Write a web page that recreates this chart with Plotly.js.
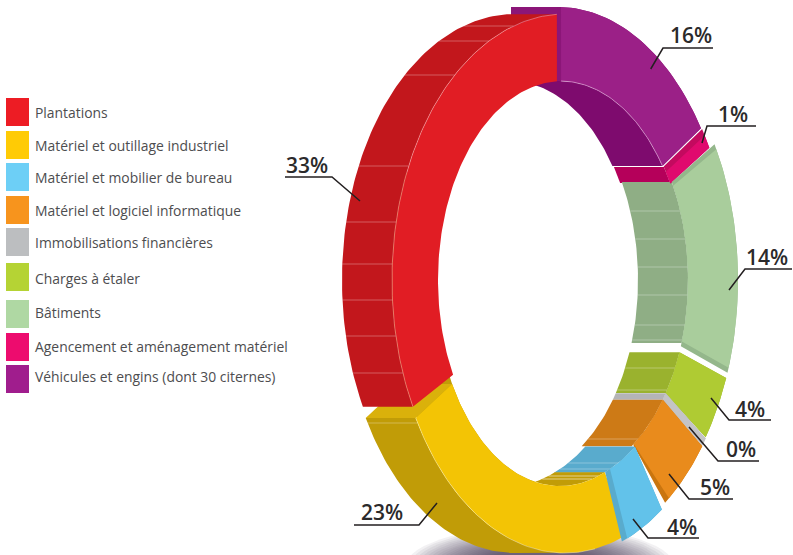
<!DOCTYPE html>
<html><head><meta charset="utf-8">
<script src="https://cdn.plot.ly/plotly-3.0.1.min.js"></script>
<style>html,body{margin:0;padding:0;background:#fff}#c{width:793px;height:555px}</style>
</head><body><div id="c"></div>
<script>
// ---- data ----
const categories = ["Plantations","Matériel et outillage industriel","Matériel et mobilier de bureau","Matériel et logiciel informatique","Immobilisations financières","Charges à étaler","Bâtiments","Agencement et aménagement matériel","Véhicules et engins (dont 30 citernes)"];
const values = [33,23,4,5,0.3,4,14,1,16];
const legendColors = ["#ed1c24","#ffcb05","#6dcff6","#f7941d","#bcbec0","#b5d334","#afd8a3","#ed0c6e","#a01d8d"];
const faceColors = ["#e11d24","#f3c405","#62c2ea","#e98b1c","#c4c4c6","#afcb33","#a9cd9c","#e00a6e","#9b2087"];
const wallColors = ["#c2171c","#c19c07","#59abcd","#cd7a16","#b4b4b6","#9ab22e","#8fae85","#b5005a","#7e0b6e"];
const underColors = ["#c2171c","#c19c07","#59abcd","#c9750f","#b4b4b6","#9ab22e","#94b78b","#c30a5f","#8b1678"];
// clockwise drawing order, starting at the top of the ring
const clockOrder = [8,7,6,5,4,3,2,1,0];

// ---- ring geometry (pixels of the page) ----
const CY = 280, DEPTH = 50;
// [cxOuter, rxOuter, ryOuter, cxInner, rxInner, ryInner]
const ellipses = [
 [565,173,266,563,125,199],[565,173,273,560,125,206],[565,173,277,563,125,204],
 [565,173,273,563,125,199],[565,173,272,563,125,199],[565,173,270,563,125,199],
 [565,173,270,563,125,199],[558,173,273,561,125,199],[558,172,273,560,125,199]];
// angle offsets [startInner,startOuter,endInner,endOuter]
const faceTrim = [
 [0,0,-2.75,-2.7],[0,0,-1.9,-1.9],[0.2,1.3,-1.1,-0.1],[0.3,0.8,0.9,-1.6],[-0.9,0,0.3,0.8],
 [0,0,-0.8,0],[0.7,0,-3.3,-2.3],[-0.4,0.6,0,0],[0.5,1,-2.4,-1.2]];
const underTrim = [
 [0,0,-2.75,-2.7],[0,0,-1.9,-1.9],[0.2,1.3,1.3,1.8],[0.3,0.8,1.2,0],[-0.9,0,0.3,0.8],
 [0,0,-0.8,0],[-0.5,-1.2,-1.8,-1.2],[-2.2,-1,0,0],[-1.4,-0.3,-2.4,-1.2]];
// inner wall angle offsets [start,end]
const wallTrim = [null,[0,60],[0,1.9],[0.3,2],[-0.9,0.3],[0,-1],[-0.5,-2.8],[-2,-0.2],[0,-2.4]];
const wallLinesInner = [[],[476,479],[463,469],[439],[],[368,390],[211,239,267,295,325,340],[],[]];
const wallLinesOuter = [[26,41,75,166,222,264,300,336,373],[423],[],[],[],[],[],[],[]];

const total = values.reduce((a,b)=>a+b,0);
const spans = {}; let run = 0;
clockOrder.forEach(i=>{ const s=run/total*360; run+=values[i]; spans[i]=[s,run/total*360]; });

const rad = d => d*Math.PI/180;
function arc(e,outer,a,b,dx){
  const cx=outer?e[0]:e[3], rx=outer?e[1]:e[4], ry=outer?e[2]:e[5];
  const n=Math.max(2,Math.ceil(Math.abs(b-a)/1.2)+1), xs=[], ys=[];
  for(let k=0;k<n;k++){ const t=a+(b-a)*k/(n-1);
    xs.push(cx+rx*Math.sin(rad(t))+(dx||0)); ys.push(CY-ry*Math.cos(rad(t))); }
  return [xs,ys];
}
const traces=[];
function poly(xs,ys,color,name){
  traces.push({type:'scatter',mode:'lines',x:xs.concat(xs[0]),y:ys.concat(ys[0]),fill:'toself',fillcolor:color,
    line:{width:0,color:color},hoverinfo:'skip',showlegend:false,name:name||''});
}
function stroke(xs,ys,color,w){
  traces.push({type:'scatter',mode:'lines',x:xs,y:ys,line:{width:w,color:color},hoverinfo:'skip',showlegend:false});
}
function band(i,tr){
  const e=ellipses[i],[s,t]=spans[i];
  const o=arc(e,true,s+tr[1],t+tr[3]), n=arc(e,false,t+tr[2],s+tr[0]);
  poly(o[0].concat(n[0]),o[1].concat(n[1]),tr===faceTrim[i]?faceColors[i]:underColors[i],categories[i]);
}
function innerWall(i){
  const e=ellipses[i],[s,t]=spans[i],w=wallTrim[i];
  const f=arc(e,false,s+w[0],t+w[1]), b=arc(e,false,t+w[1],s+w[0],-DEPTH);
  poly(f[0].concat(b[0]),f[1].concat(b[1]),wallColors[i],categories[i]);
}
function outerWall(i,a,b){
  const e=ellipses[i];
  const f=arc(e,true,a,b), k=arc(e,true,b,a,-DEPTH);
  poly(f[0].concat(k[0]),f[1].concat(k[1]),wallColors[i],categories[i]);
}
function endFace(i,ang,angIn,color){
  const e=ellipses[i];
  const o=arc(e,true,ang,ang), n=arc(e,false,angIn,angIn);
  const ox=o[0][0],oy=o[1][0],nx=n[0][0],ny=n[1][0];
  poly([ox,nx,nx-DEPTH,ox-DEPTH],[oy,ny,ny,oy],color);
}
function linesAcross(i){
  const e=ellipses[i], col='rgba(255,255,255,0.3)';
  wallLinesInner[i].forEach(y=>{ const x=e[3]+e[4]*Math.sqrt(Math.max(0,1-Math.pow((y-CY)/e[5],2))); stroke([x-DEPTH,x],[y,y],col,1); });
  wallLinesOuter[i].forEach(y=>{ const x=e[0]-e[1]*Math.sqrt(Math.max(0,1-Math.pow((y-CY)/e[2],2))); stroke([x-DEPTH,x],[y,y],col,1); });
}

// soft ground shadow: many faint nested ellipses
const shadowRx=[134,130,126,122,118,114,110,106,102,98,94,90,86,82,78,74,70,66,62,58];
const shadowRy=[40,38.5,37,35.5,34,32.5,31,30,29,28,27,26,25,24,23,22,21,20,19,18];
shadowRx.forEach((rx,j)=>{
  const ry=shadowRy[j],xs=[],ys=[];
  for(let a=0;a<=360;a+=6){ xs.push(540+rx*Math.cos(rad(a))); ys.push(566+ry*Math.sin(rad(a))); }
  poly(xs,ys,'rgba(70,62,78,0.07)');
});

// back parts
const P=8,A=7,G=6,L=5,F=4,O=3,B=2,Y=1,R=0;
endFace(P,spans[P][0]+1,spans[P][0]+0.5,underColors[P]);
[P,A,G,L,F,O,B,Y].forEach(i=>{ innerWall(i); linesAcross(i); });
outerWall(Y,178,spans[Y][1]-1.9);
endFace(Y,spans[Y][1]-1.9,spans[Y][1]-1.9,'#dab10b');
linesAcross(Y);
outerWall(R,spans[R][0],spans[R][1]-2.7);
linesAcross(R);

// faces
band(Y,faceTrim[Y]);
stroke(...arc(ellipses[Y],true,170,spans[Y][1]-1.9),'rgba(255,245,190,0.55)',0.8);
band(R,faceTrim[R]);
stroke(...arc(ellipses[R],true,spans[R][0],spans[R][1]-2.7),'rgba(255,200,200,0.55)',0.8);
[P,A,G,L,F,O,B].forEach(i=>{ band(i,underTrim[i]); band(i,faceTrim[i]); });
stroke(...arc(ellipses[P],false,spans[P][0]+0.5,spans[P][1]-2.4),'rgba(240,200,235,0.7)',0.8);

// leader lines and percentage labels: [index, labelX, labelY, path xs, path ys]
const labelSpots = [
 [0,307,165,[360,332,285],[201,177,177]],
 [1,382,512,[437,419,354],[503,525,525]],
 [2,682,527,[633,648,699],[519,538,538]],
 [3,715,487,[669,689,733],[474,499,499]],
 [4,741,449,[689,718,759],[427,461,461]],
 [5,750,409,[711,729,771],[398,420,420]],
 [6,767,257,[729,745,792],[290,269,269]],
 [7,733,114,[702,707,756],[143,126,126]],
 [8,691,35,[650.7,663,713],[69,48,48]]];
const annotations=[];
labelSpots.forEach(s=>{
  stroke(s[3],s[4],'#231f20',1.5);
  annotations.push({xref:'x',yref:'y',x:s[1],y:s[2],xanchor:'center',yanchor:'middle',showarrow:false,
    text:Math.round(values[s[0]])+'%',font:{family:'"Open Sans"',size:21,color:'#2b2a2b',weight:600}});
});

// hand-placed legend, as in the source
const legendTop=[98,131,163,196,228,263,300,333,365];
const legendTextY=[112.5,145.5,177.5,210.5,242.5,278,312.5,346.5,376.5];
const shapes=categories.map((c,i)=>({type:'rect',xref:'x',yref:'y',x0:6,x1:29,y0:legendTop[i],y1:legendTop[i]+28,fillcolor:legendColors[i],line:{width:0}}));
categories.forEach((c,i)=>annotations.push({xref:'x',yref:'y',x:33,y:legendTextY[i],xanchor:'left',yanchor:'middle',showarrow:false,
  text:c,font:{family:'"Open Sans"',size:13.9,color:'#4d4d4f'}}));

Plotly.newPlot('c',traces,{
  width:793,height:555,margin:{l:0,r:0,t:0,b:0},paper_bgcolor:'#fff',plot_bgcolor:'#fff',showlegend:false,
  xaxis:{range:[0,793],visible:false,fixedrange:true},
  yaxis:{range:[555,0],visible:false,fixedrange:true},
  shapes:shapes,annotations:annotations
},{displayModeBar:false,staticPlot:true});
</script></body></html>
